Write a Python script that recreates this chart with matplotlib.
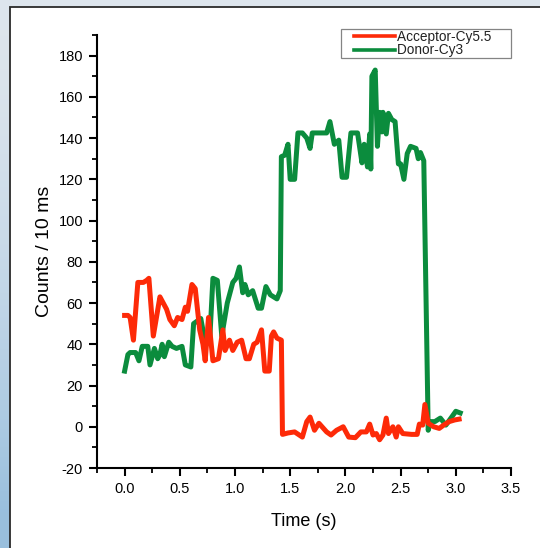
import numpy as np
import matplotlib
matplotlib.use("Agg")
import matplotlib.pyplot as plt
from matplotlib.patches import Rectangle
from matplotlib.ticker import MultipleLocator
from matplotlib.legend_handler import HandlerLine2D
from matplotlib.lines import Line2D

# ---- data ----
acc_t = [0.00, 0.03, 0.05, 0.08, 0.12, 0.17, 0.20, 0.22, 0.26, 0.32, 0.35, 0.38, 0.41, 0.45,
         0.48, 0.52, 0.55, 0.57, 0.61, 0.64, 0.68, 0.71, 0.73, 0.76, 0.80, 0.85, 0.89, 0.91,
         0.95, 0.98, 1.02, 1.06, 1.10, 1.13, 1.17, 1.20, 1.24, 1.27, 1.31, 1.33, 1.35, 1.38,
         1.42, 1.43, 1.48, 1.54, 1.61, 1.65, 1.68, 1.72, 1.76, 1.83, 1.87, 1.92, 1.98, 2.03,
         2.09, 2.14, 2.19, 2.22, 2.25, 2.28, 2.31, 2.34, 2.37, 2.39, 2.43, 2.46, 2.48, 2.52,
         2.60, 2.65, 2.67, 2.70, 2.72, 2.75, 2.80, 2.85, 2.89, 2.94, 2.99, 3.03]
acc_v = [54, 54, 53, 42, 70, 70, 71, 72, 44, 63, 60, 57, 52, 49,
         53, 52, 58, 56, 69, 67, 47, 40, 32, 53, 32, 33, 47, 37,
         42, 37, 41, 42, 33, 33, 40, 41, 47, 27, 27, 44, 46, 43,
         42, -3.7, -3, -2.5, -5, 2.5, 4.7, -1.7, 1.7, -2.5, -4, -1.7, 0, -5,
         -5.3, -2.5, -2.5, 1.3, -4, -3.3, -6.3, -4, 4.2, -3.3, 0, -5, 0, -3.3,
         -3.7, -3.7, 1.3, 0.8, 10.8, 1.7, 0, -0.8, 0.8, 2.5, 3.3, 3.7]

don_t = [0.00, 0.03, 0.05, 0.10, 0.13, 0.16, 0.21, 0.23, 0.27, 0.30, 0.32, 0.34, 0.36, 0.40,
         0.43, 0.47, 0.52, 0.55, 0.60, 0.625, 0.69, 0.73, 0.77, 0.80, 0.84, 0.88, 0.93, 0.98,
         1.01, 1.04, 1.07, 1.09, 1.12, 1.16, 1.21, 1.24, 1.28, 1.32, 1.38, 1.41, 1.42, 1.45,
         1.48, 1.50, 1.54, 1.57, 1.61, 1.65, 1.68, 1.70, 1.83, 1.86, 1.90, 1.94, 1.97, 2.01,
         2.05, 2.11, 2.15, 2.17, 2.20, 2.22, 2.23, 2.24, 2.27, 2.29, 2.31, 2.33, 2.34, 2.37,
         2.39, 2.42, 2.45, 2.48, 2.50, 2.53, 2.56, 2.59, 2.64, 2.66, 2.68, 2.71, 2.75, 2.77,
         2.81, 2.86, 2.91, 2.96, 3.00, 3.04]
don_v = [27, 35, 36, 36, 32, 39, 39, 30, 38, 33, 35, 40, 34, 41,
         39, 38, 39, 30, 29, 50, 52.5, 41, 41, 72, 71, 44, 60, 70,
         72, 77.5, 65, 69, 64, 66, 57.5, 57.5, 68, 64, 62, 66, 131, 131.7,
         137, 120, 120, 142.5, 142.5, 140, 135, 142.5, 142.5, 148, 137, 139, 121, 121,
         142.5, 142.5, 128, 137, 126, 142, 125, 170, 173, 136, 152.5, 143, 152.5, 142,
         152, 149, 148, 127.5, 127.5, 120, 132.5, 136, 135, 130, 133, 129, -1.7, 2.5,
         2.5, 4.2, 0.8, 4.5, 7.5, 6.7]

labels = ["Acceptor-Cy5.5", "Donor-Cy3"]
x_ticks = [0.0, 0.5, 1.0, 1.5, 2.0, 2.5, 3.0, 3.5]
y_ticks = [-20, 0, 20, 40, 60, 80, 100, 120, 140, 160, 180]

RED = "#fd2a08"
GREEN = "#0b8c3d"

W, H = 540, 548
fig = plt.figure(figsize=(W / 100, H / 100), dpi=100)

# background gradient
bg = fig.add_axes([0, 0, 1, 1], zorder=-10)
bg.set_axis_off()
xx, yy = np.meshgrid(np.linspace(0, 1, 200), np.linspace(0, 1, 200))
top = np.array([0.87, 0.90, 0.93])
blue = np.array([0.60, 0.75, 0.87])
w = np.clip((yy ** 1.6) * 1.1, 0, 1)[..., None]
img = top * (1 - w) + blue * w
bg.imshow(img, extent=[0, 1, 0, 1], aspect="auto", origin="upper")
bg.set_xlim(0, 1)
bg.set_ylim(0, 1)

# white panel
fig.patches.append(Rectangle((10 / W, -0.05), 1.2, 1 - 7 / H + 0.05,
                             transform=fig.transFigure, facecolor="white",
                             edgecolor="#2a2a2a", linewidth=1.3, zorder=-5))

ax = fig.add_axes([97 / W, 1 - 468 / H, (511 - 97) / W, (468 - 35) / H])
ax.set_facecolor("none")
ax.plot(acc_t, acc_v, color=RED, lw=3.6, label=labels[0], solid_joinstyle="round", zorder=3)
ax.plot(don_t, don_v, color=GREEN, lw=3.6, label=labels[1], solid_joinstyle="round", zorder=2)

ax.set_xlim(-0.25, 3.5)
ax.set_ylim(-20, 190)
ax.set_xticks(x_ticks)
ax.set_yticks(y_ticks)
ax.set_xticklabels([f"{v:.1f}" for v in x_ticks])
ax.set_yticklabels([str(v) for v in y_ticks])
ax.xaxis.set_minor_locator(MultipleLocator(0.25))
ax.yaxis.set_minor_locator(MultipleLocator(10))
for s in ["top", "right"]:
    ax.spines[s].set_visible(False)
for s in ["left", "bottom"]:
    ax.spines[s].set_linewidth(1.5)
ax.tick_params(which="major", direction="out", length=6, width=1.5, labelsize=10.5, pad=4)
ax.tick_params(which="minor", direction="out", length=3.5, width=1.3)
for lab in ax.get_xticklabels() + ax.get_yticklabels():
    lab.set_fontfamily(["Liberation Sans Narrow", "Liberation Sans", "DejaVu Sans"])

ax.set_xlabel("Time (s)", fontsize=13, family=["Liberation Sans Narrow", "Liberation Sans"], labelpad=12)
ax.set_ylabel("Counts / 10 ms", fontsize=14, family=["Liberation Sans", "DejaVu Sans"], labelpad=4)

handles, labs = ax.get_legend_handles_labels()
leg = ax.legend(handles, [l + "     " for l in labs],
                loc="upper right", bbox_to_anchor=(1.0, 1.014),
                prop={"family": "Liberation Sans", "size": 9.8},
                frameon=True, fancybox=False, handlelength=3.9, handletextpad=0.15,
                borderpad=0.06, labelspacing=-0.02, borderaxespad=0.0,
                handler_map={Line2D: HandlerLine2D(xpad=0.85)})
leg.get_frame().set_edgecolor("#666666")
leg.get_frame().set_linewidth(0.9)
for line in leg.get_lines():
    line.set_linewidth(2.6)
for t in leg.get_texts():
    t.set_color("#222222")

fig.savefig("out.png", dpi=100)
